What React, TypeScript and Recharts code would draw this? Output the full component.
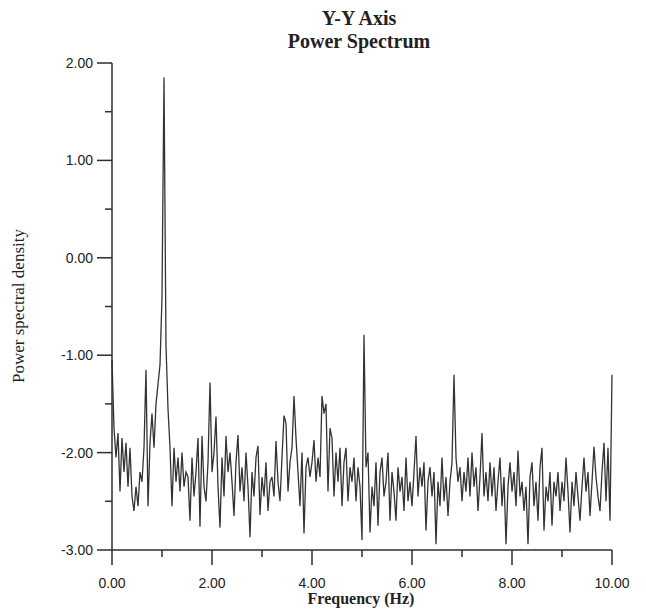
import { LineChart, Line, XAxis, YAxis } from "recharts"

// frequency spacing of the spectrum samples (Hz)
const FREQ_STEP = 0.04

// power spectral density, 0.04 Hz apart
const psd0to2 = [
	-1.05, -1.75, -2.05, -1.8, -2.4, -1.85, -2.2, -1.9, -2.35, -1.95,
	-2.45, -2.6, -2.35, -2.55, -2.2, -2.3, -1.95, -1.15, -2.55, -1.9,
	-1.6, -1.95, -1.5, -1.3, -1.1, -0.4, 1.85, -0.9, -1.55, -1.95,
	-2.55, -1.95, -2.3, -2.05, -2.4, -2.0, -2.35, -2.2, -2.25, -2.7,
	-2.05, -2.45, -2.2, -1.85, -2.76, -1.83, -2.35, -2.5, -2.1, -1.28,
]
const psd2to4 = [
	-2.2, -2.0, -1.63, -2.35, -2.77, -2.05, -2.45, -1.83, -2.2, -2.0,
	-2.3, -2.65, -2.1, -1.82, -2.4, -2.15, -2.5, -2.0, -2.35, -2.87,
	-2.2, -2.45, -2.05, -1.93, -2.64, -2.25, -2.45, -2.1, -2.6, -2.3,
	-2.25, -2.45, -1.88, -2.3, -2.5, -2.05, -1.62, -1.7, -2.4, -2.1,
	-1.95, -1.42, -1.85, -2.2, -2.55, -2.0, -2.83, -2.15, -2.05, -2.25,
]
const psd4to6 = [
	-2.1, -1.87, -2.3, -2.05, -2.25, -1.42, -1.6, -1.5, -2.4, -1.75,
	-1.85, -2.45, -2.0, -2.3, -1.95, -2.55, -2.1, -1.95, -2.5, -2.15,
	-2.3, -2.05, -2.5, -2.15, -2.35, -2.9, -0.79, -2.15, -2.0, -2.82,
	-2.35, -2.55, -2.1, -2.75, -2.2, -2.05, -2.45, -2.3, -2.0, -2.7,
	-2.2, -2.4, -2.7, -2.15, -2.4, -2.25, -2.6, -2.05, -2.5, -2.3,
]
const psd6to8 = [
	-2.55, -2.2, -1.83, -2.45, -2.15, -2.35, -2.1, -2.8, -2.3, -2.15,
	-2.45, -2.2, -2.94, -2.3, -2.55, -2.05, -2.5, -2.25, -2.65, -2.3,
	-2.1, -1.2, -2.05, -2.3, -2.15, -2.5, -2.2, -2.4, -2.05, -2.45,
	-2.0, -2.35, -2.15, -2.6, -2.25, -1.8, -2.45, -2.2, -2.5, -2.1,
	-2.45, -2.15, -2.6, -2.3, -2.05, -2.55, -2.25, -2.94, -2.35, -2.1,
]
const psd8to10 = [
	-2.4, -2.2, -2.55, -1.98, -2.45, -2.3, -2.6, -2.35, -2.94, -2.25,
	-2.1, -2.55, -2.3, -2.7, -2.15, -1.95, -2.8, -2.35, -2.5, -2.2,
	-2.75, -2.3, -2.45, -2.2, -2.6, -2.3, -2.5, -2.05, -2.4, -2.82,
	-2.3, -2.55, -2.2, -2.45, -2.7, -2.35, -2.05, -2.4, -2.2, -2.65,
	-2.3, -1.94, -2.25, -2.45, -2.6, -2.2, -1.9, -2.5, -1.95, -2.7,
	-1.2,
]

const xTicks = [0, 1, 2, 3, 4, 5, 6, 7, 8, 9, 10]
const yTicks = [-3, -2.5, -2, -1.5, -1, -0.5, 0, 0.5, 1, 1.5, 2]

const data = [...psd0to2, ...psd2to4, ...psd4to6, ...psd6to8, ...psd8to10].map(
	(psd, i) => ({ f: +(i * FREQ_STEP).toFixed(2), psd })
)

const INK = "#2e2e2e"
const SANS = "'Liberation Sans', Arial, sans-serif"
const SERIF = "'Liberation Serif', 'Times New Roman', serif"

const YTick = ({ x, y, payload }: any) => {
	const v = payload.value as number
	const major = Number.isInteger(v)
	return (
		<g>
			<line x1={x - (major ? 15 : 7)} x2={x} y1={y} y2={y} stroke={INK} strokeWidth={1.5} />
			{major && (
				<text x={x - 19} y={y} textAnchor="end" dominantBaseline="central" fontFamily={SANS} fontSize={14} fill="#222">
					{v.toFixed(2)}
				</text>
			)}
		</g>
	)
}

const XTick = ({ x, y, payload }: any) => {
	const v = payload.value as number
	const major = v % 2 === 0
	return (
		<g>
			<line x1={x} x2={x} y1={y} y2={y + (major ? 15 : 7)} stroke={INK} strokeWidth={1.5} />
			{major && (
				<text x={x} y={y + 38} textAnchor="middle" fontFamily={SANS} fontSize={14} fill="#222">
					{v.toFixed(2)}
				</text>
			)}
		</g>
	)
}

const App = () => (
	<div style={{ position: "relative", width: 630, height: 600, background: "#fff" }}>
		<LineChart width={630} height={600} data={data} margin={{ top: 55, right: 26, bottom: 18, left: 44 }}>
			<XAxis
				dataKey="f"
				type="number"
				domain={[0, 10]}
				ticks={xTicks}
				interval={0}
				height={40}
				tickSize={0}
				tickMargin={0}
				tick={<XTick />}
				axisLine={{ stroke: INK, strokeWidth: 1.5 }}
			/>
			<YAxis
				type="number"
				domain={[-3, 2]}
				ticks={yTicks}
				interval={0}
				width={60}
				tickSize={0}
				tickMargin={0}
				tick={<YTick />}
				axisLine={{ stroke: INK, strokeWidth: 1.5 }}
			/>
			<Line
				type="linear"
				dataKey="psd"
				stroke="#333"
				strokeWidth={1.3}
				dot={false}
				isAnimationActive={false}
			/>
		</LineChart>
		<svg
			width={630}
			height={600}
			style={{ position: "absolute", left: 0, top: 0, pointerEvents: "none", overflow: "visible" }}
		>
			<text x={351} y={17} textAnchor="middle" fontFamily={SERIF} fontWeight="bold" fontSize={20} fill="#222">
				Y-Y Axis
			</text>
			<text x={351} y={40} textAnchor="middle" fontFamily={SERIF} fontWeight="bold" fontSize={20} fill="#222">
				Power Spectrum
			</text>
			<text
				x={10}
				y={298}
				transform="rotate(-90 10 298)"
				textAnchor="middle"
				dominantBaseline="central"
				fontFamily={SERIF}
				fontSize={17}
				fill="#222"
			>
				Power spectral density
			</text>
			<text x={353} y={596} textAnchor="middle" fontFamily={SERIF} fontWeight="bold" fontSize={16} fill="#222">
				Frequency (Hz)
			</text>
		</svg>
	</div>
)

export default App
